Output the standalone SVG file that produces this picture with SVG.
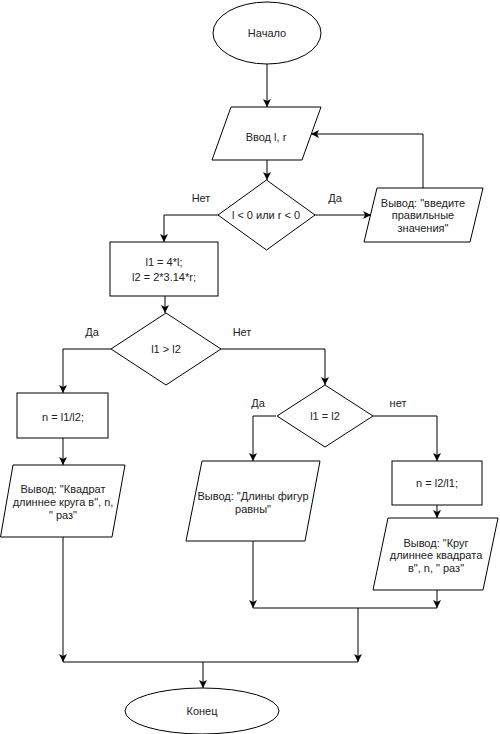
<svg xmlns="http://www.w3.org/2000/svg" width="500" height="734" viewBox="0 0 500 734">
<style>
.s{fill:#fff;stroke:#000;stroke-width:1}
.c{fill:none;stroke:#000;stroke-width:1}
text{font-family:"Liberation Sans",Arial,sans-serif;font-size:11px;fill:#222;text-anchor:middle}
</style>
<defs>
<marker id="a" markerUnits="userSpaceOnUse" markerWidth="10" markerHeight="10" refX="8" refY="4" orient="auto">
<path d="M0,0 L8,4 L0,8 L2,4 z" fill="#000"/>
</marker>
</defs>
<rect width="500" height="734" fill="#fff"/>
<g id="connectors">
<path class="c" d="M267,64 V107" marker-end="url(#a)"/>
<path class="c" d="M267,160 V180" marker-end="url(#a)"/>
<path class="c" d="M315,215 H371" marker-end="url(#a)"/>
<path class="c" d="M423,188 V134 H311" marker-end="url(#a)"/>
<path class="c" d="M218,215 H164 V242" marker-end="url(#a)"/>
<path class="c" d="M165,296 V313" marker-end="url(#a)"/>
<path class="c" d="M111,349 H63 V393" marker-end="url(#a)"/>
<path class="c" d="M63,438 V465" marker-end="url(#a)"/>
<path class="c" d="M221,349 H325 V385" marker-end="url(#a)"/>
<path class="c" d="M276,416 H253 V461" marker-end="url(#a)"/>
<path class="c" d="M373,416 H437 V461" marker-end="url(#a)"/>
<path class="c" d="M437,505 V518" marker-end="url(#a)"/>
<path class="c" d="M253,541 V608" marker-end="url(#a)"/>
<path class="c" d="M437,590 V608" marker-end="url(#a)"/>
<path class="c" d="M253,608 H437"/>
<path class="c" d="M358,608 V662" marker-end="url(#a)"/>
<path class="c" d="M63,537 V662" marker-end="url(#a)"/>
<path class="c" d="M63,662 H358"/>
<path class="c" d="M203,662 V688" marker-end="url(#a)"/>
<text x="201" y="202">Нет</text>
<text x="335" y="202">Да</text>
<text x="92" y="336">Да</text>
<text x="242" y="336">Нет</text>
<text x="258" y="407">Да</text>
<text x="398" y="407">нет</text>
</g>
<g id="start">
<ellipse class="s" cx="267" cy="33" rx="54" ry="31"/>
<text x="267" y="37">Начало</text>
</g>
<g id="input">
<polygon class="s" points="231,107 321,107 302,160 212,160"/>
<text x="266" y="141">Ввод l, r</text>
</g>
<g id="check1">
<polygon class="s" points="266.5,180 315,215 266.5,250 218,215"/>
<text x="266" y="219">l &lt; 0 или r &lt; 0</text>
</g>
<g id="error">
<polygon class="s" points="377,188 483,188 470,242 364,242"/>
<text x="423" y="207">Вывод: "введите</text>
<text x="423" y="219">правильные</text>
<text x="423" y="232">значения"</text>
</g>
<g id="calc">
<rect class="s" x="110" y="242" width="108" height="54"/>
<text x="164" y="266">l1 = 4*l;</text>
<text x="164" y="281">l2 = 2*3.14*r;</text>
</g>
<g id="check2">
<polygon class="s" points="166,313 221,349 166,385 111,349"/>
<text x="166" y="353">l1 &gt; l2</text>
</g>
<g id="div1">
<rect class="s" x="17" y="393" width="91" height="45"/>
<text x="63" y="421">n = l1/l2;</text>
</g>
<g id="out1">
<polygon class="s" points="13,465 125,465 112,537 0.5,537"/>
<text x="63" y="493">Вывод: "Квадрат</text>
<text x="63" y="506">длиннее круга в", n,</text>
<text x="63" y="519">" раз"</text>
</g>
<g id="check3">
<polygon class="s" points="325,385 373,416 325,447 277,416"/>
<text x="325" y="420">l1 = l2</text>
</g>
<g id="out2">
<polygon class="s" points="202,461 320,461 305,541 186,541"/>
<text x="253" y="500">Вывод: "Длины фигур</text>
<text x="253" y="513">равны"</text>
</g>
<g id="div2">
<rect class="s" x="392" y="461" width="90" height="44"/>
<text x="437" y="487">n = l2/l1;</text>
</g>
<g id="out3">
<polygon class="s" points="388,518 498,518 483,590 373,590"/>
<text x="436" y="547">Вывод: "Круг</text>
<text x="436" y="559">длиннее квадрата</text>
<text x="436" y="572">в", n, " раз"</text>
</g>
<g id="end">
<ellipse class="s" cx="202" cy="711" rx="77" ry="23"/>
<text x="202" y="715">Конец</text>
</g>
</svg>
